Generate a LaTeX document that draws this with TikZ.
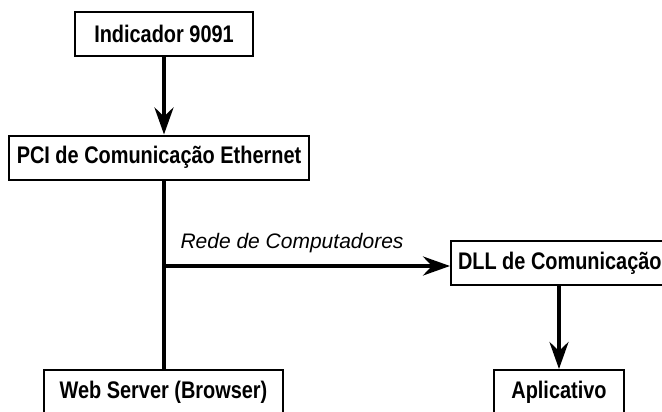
\documentclass[tikz,border=0pt]{standalone}
\usepackage{fontspec}
\setmainfont{Liberation Sans}
\newfontfamily\boxfont{Liberation Sans}[FakeStretch=0.83]
\usepackage{tikz}
\usetikzlibrary{arrows.meta,positioning,calc}

\begin{document}
\begin{tikzpicture}[x=1pt, y=-1pt,
      block/.style={draw, line width=2pt, minimum height=44pt, inner xsep=8pt, align=center, font=\boxfont\bfseries\fontsize{24}{26}\selectfont},
      netlabel/.style={font=\itshape\fontsize{21}{24}\selectfont, anchor=base west},
      arrowstyle/.style={-{Stealth[length=27pt, width=19pt, inset=9pt]}, line width=4pt},
      linkstyle/.style={line width=4pt}
    ]
    \useasboundingbox (0,0) rectangle (662,412);
    \node[block, minimum width=178pt] (indicador) at (164,34) {Indicador 9091};
    \node[block, minimum width=298pt] (pci) at (159,157.5) {PCI de Comunicação Ethernet};
    \node[block, minimum width=239pt, anchor=north] (webserver) at (163.5,369) {Web Server (Browser)};
    \node[block, anchor=west, inner xsep=7pt] (dll) at (450,263) {DLL de Comunicação};
    \node[block, minimum width=130pt, anchor=north] (aplicativo) at (559,369) {Aplicativo};
    \coordinate (tee) at (164,266);
    \node[netlabel] (rede) at (177,248) {Rede de Computadores};

    \draw[arrowstyle] (indicador.south -| tee) -- (pci.north -| tee);
    \draw[linkstyle] (pci.south -| tee) -- (webserver.north -| tee);
    \draw[arrowstyle] (tee) -- (tee -| dll.west);
    \draw[arrowstyle] (dll.south -| aplicativo) -- (aplicativo.north);
  \end{tikzpicture}
\end{document}
